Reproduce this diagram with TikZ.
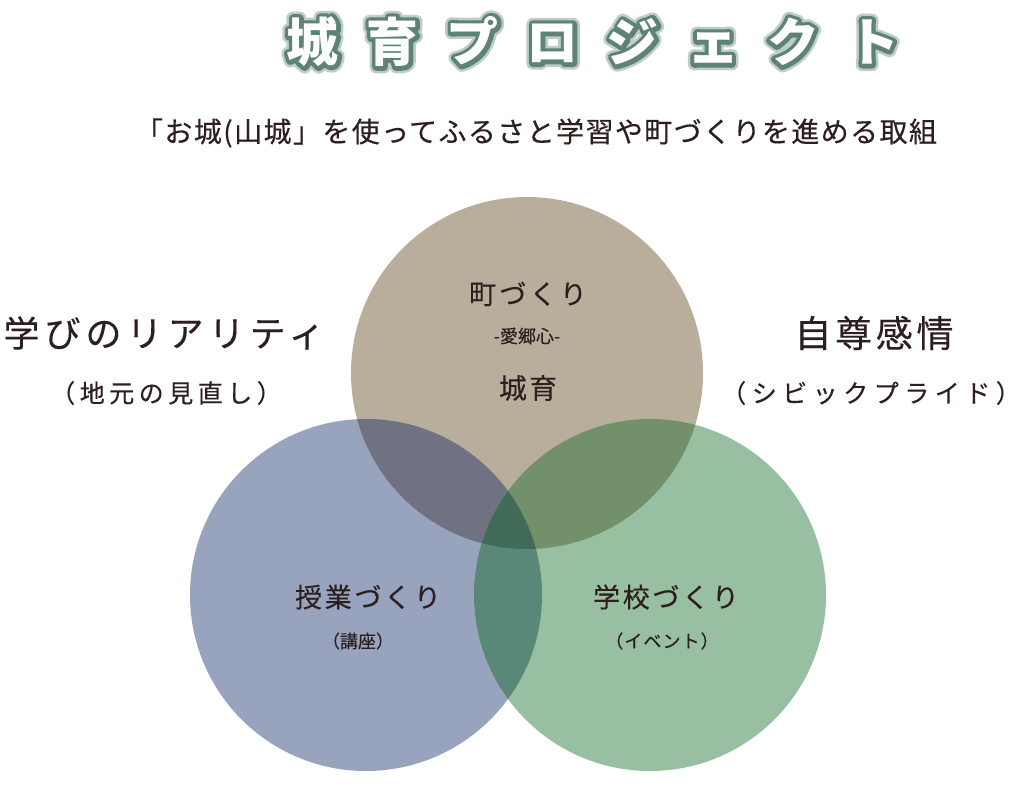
\documentclass[tikz,border=0pt]{standalone}
\usepackage{fontspec}
\usetikzlibrary{calc}
\newfontfamily\jp{Noto Sans CJK JP}[FakeBold=0.3]
\newfontfamily\jpb{Noto Sans CJK JP}[LetterSpace=54]
\definecolor{tan}{HTML}{B9AD9B}
\definecolor{bluec}{HTML}{98A3BD}
\definecolor{greenc}{HTML}{98BFA2}
\definecolor{tb}{HTML}{707282}
\definecolor{tg}{HTML}{72916B}
\definecolor{bg}{HTML}{5A8878}
\definecolor{tbg}{HTML}{3F6B58}
\definecolor{ink}{HTML}{2D1F1F}
\definecolor{glow}{HTML}{5E8278}
\colorlet{glowsoft}{glow!40}
\newcommand\myglow[1]{%
  \rlap{\textcolor{glowsoft}{\special{pdf:literal direct 1 j 1 J 13 w 2 Tr}#1\special{pdf:literal direct 0 Tr 1 w 0 j 0 J}}}%
  \rlap{\textcolor{glow}{\special{pdf:literal direct 1 j 1 J 8 w 2 Tr}#1\special{pdf:literal direct 0 Tr 1 w 0 j 0 J}}}%
  \textcolor{white}{#1}}
\tikzset{
  lbl/.style={inner sep=0pt, text=ink, font=\jp},
  ttl/.style={inner sep=0pt, font={\jpb\bfseries\fontsize{52}{58}\selectfont}},
}
\begin{document}
\begin{tikzpicture}[x=1pt,y=-1pt]
\useasboundingbox (0,0) rectangle (1026,789);
\fill[white] (0,0) rectangle (1026,789);
% circles
\coordinate (T) at (527,373);
\coordinate (B) at (366,595);
\coordinate (G) at (650,595);
\fill[tan] (T) circle (176);
\fill[bluec] (B) circle (176);
\fill[greenc] (G) circle (176);
\begin{scope}
  \clip (T) circle (176);
  \fill[tb] (B) circle (176);
  \fill[tg] (G) circle (176);
\end{scope}
\begin{scope}
  \clip (B) circle (176);
  \fill[bg] (G) circle (176);
  \clip (G) circle (176);
  \fill[tbg] (T) circle (176);
\end{scope}
% title with outline glow
\node[ttl] (title) at (593,42) {\myglow{城育プロジェクト}};
% subtitle
\node[lbl, font={\jp\fontsize{28}{32}\selectfont\addfontfeature{LetterSpace=5}}] (sub) at (536,133) {「お城(山城」を使ってふるさと学習や町づくりを進める取組};
% side labels
\node[lbl, font={\jp\fontsize{36}{40}\selectfont\addfontfeature{LetterSpace=14}}] (left1) at (164,333) {学びのリアリティ};
\node[lbl, font={\jp\fontsize{25}{28}\selectfont\addfontfeature{LetterSpace=18}}] (left2) at (166,393) {（地元の見直し）};
\node[lbl, font={\jp\fontsize{37}{40}\selectfont\addfontfeature{LetterSpace=10}}] (right1) at (874,333) {自尊感情};
\node[lbl, font={\jp\fontsize{25}{28}\selectfont\addfontfeature{LetterSpace=22}}] (right2) at (871,393) {（シビックプライド）};
% circle labels
\node[lbl, font={\jp\fontsize{27}{30}\selectfont\addfontfeature{LetterSpace=12}}] (machi) at (528,294) {町づくり};
\node[lbl, font={\jp\fontsize{18}{20}\selectfont}] (aikyo) at (527,336) {-愛郷心-};
\node[lbl, font={\jp\fontsize{28}{30}\selectfont\addfontfeature{LetterSpace=8}}] (jouiku) at (528,388) {城育};
\node[lbl, font={\jp\fontsize{27}{30}\selectfont\addfontfeature{LetterSpace=10}}] (jugyo) at (368,597) {授業づくり};
\node[lbl, font={\jp\fontsize{18}{20}\selectfont}] (koza) at (358,641) {（講座）};
\node[lbl, font={\jp\fontsize{27}{30}\selectfont\addfontfeature{LetterSpace=10}}] (gakko) at (666,597) {学校づくり};
\node[lbl, font={\jp\fontsize{18}{20}\selectfont\addfontfeature{LetterSpace=6}}] (event) at (662,641) {（イベント）};
\end{tikzpicture}
\end{document}
